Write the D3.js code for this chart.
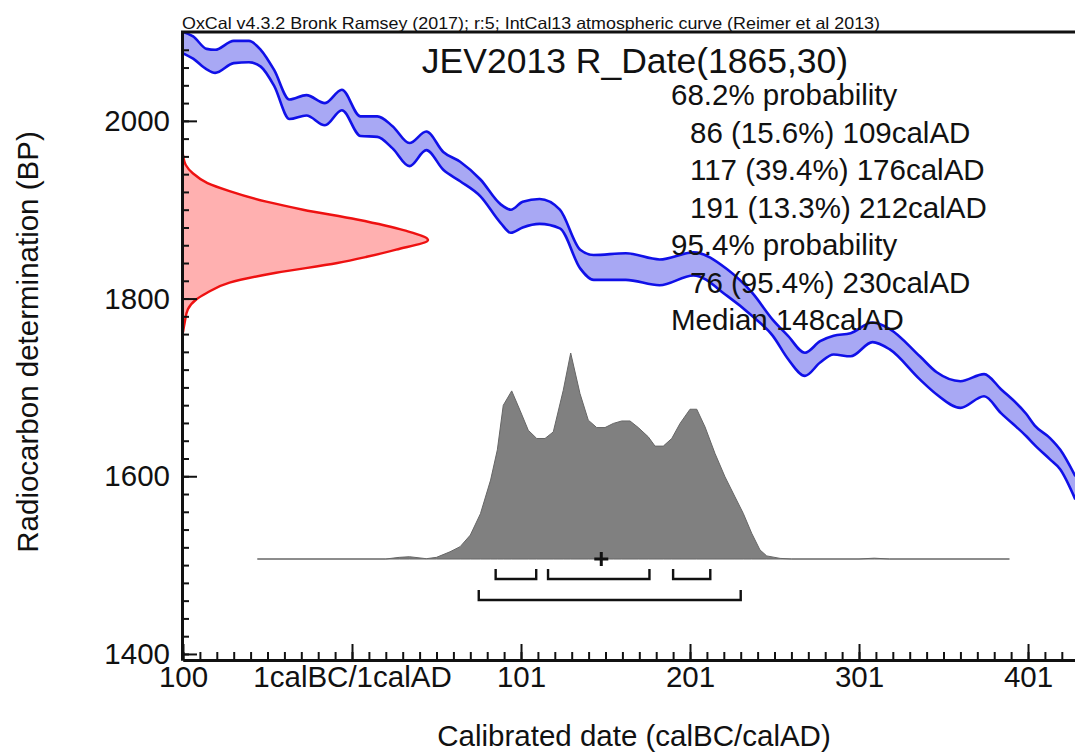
<!DOCTYPE html>
<html>
<head>
<meta charset="utf-8">
<script src="https://cdn.jsdelivr.net/npm/d3@7"></script>
<style>
  html, body { margin: 0; padding: 0; background: #fff; }
  svg { display: block; }
  text { font-family: "Liberation Sans", Arial, sans-serif; fill: #111; }
</style>
</head>
<body>
<svg id="chart" width="1075" height="752"></svg>
<script>
// ---------- DATA ----------
const xTickValues = [-100, 0, 100, 200, 300, 400];
const xTickLabels = ["100", "1calBC/1calAD", "101", "201", "301", "401"];
const yTickValues = [1400, 1600, 1800, 2000];

// IntCal13 band (upper/lower edge, BP) by calendar position
const curveYears = [-100, -94, -86, -81, -70, -61, -54, -46, -37, -27, -16, -6, 5, 15, 24, 34, 44, 54, 64, 76, 88, 94, 101, 111, 123, 135, 143, 162, 182, 202, 222, 237, 249, 258, 268, 277, 285, 295, 308, 318, 336, 346, 360, 374, 384, 399, 404, 413, 419, 428];
const curveUpper = [2100, 2095, 2081, 2080, 2090, 2090, 2080, 2057, 2024, 2029, 2020, 2035, 2005, 2005, 1994, 1975, 1988, 1965, 1954, 1934, 1906, 1900, 1909, 1912, 1900, 1855, 1849, 1851, 1844, 1852, 1833, 1806, 1776, 1758, 1739, 1752, 1758, 1761, 1773, 1766, 1735, 1717, 1707, 1715, 1698, 1670, 1657, 1643, 1630, 1600];
const curveLower = [2076, 2070, 2058, 2054, 2065, 2066, 2061, 2039, 2002, 2006, 1995, 2012, 1983, 1982, 1969, 1949, 1967, 1945, 1932, 1915, 1885, 1874, 1880, 1884, 1879, 1834, 1821, 1821, 1815, 1826, 1803, 1780, 1758, 1732, 1713, 1728, 1737, 1735, 1751, 1743, 1709, 1692, 1677, 1690, 1671, 1645, 1635, 1619, 1608, 1574];

// Radiocarbon measurement R_Date(1865,30): relative probability by BP
const rDateBP   = [1962, 1950, 1941, 1930, 1921, 1909, 1900, 1889, 1877, 1866, 1855, 1847, 1840, 1829, 1818, 1806, 1799, 1788, 1773, 1762];
const rDateProb = [0, 0.012, 0.04, 0.10, 0.19, 0.34, 0.49, 0.71, 0.90, 1.0, 0.87, 0.75, 0.63, 0.38, 0.19, 0.095, 0.054, 0.02, 0.007, 0];

// Calibrated posterior: relative probability by calendar position
const postYears = [-56, 20, 28, 34, 44, 50, 58, 64, 70, 76, 82, 86, 89.5, 94.5, 99.4, 104.3, 109.3, 114.2, 119.1, 125, 129.4, 134.9, 139.8, 144.8, 149.7, 154.6, 159.6, 164.5, 169.4, 175.3, 179.3, 184.2, 189.2, 194.1, 200, 204, 208.9, 214.8, 220.7, 226.6, 231.5, 236.5, 241.4, 245.4, 253.3, 260, 300, 309, 318, 389];
const postProb  = [0, 0, 0.008, 0.011, 0.0015, 0.008, 0.035, 0.06, 0.116, 0.22, 0.383, 0.53, 0.746, 0.816, 0.722, 0.625, 0.585, 0.585, 0.617, 0.819, 1.0, 0.803, 0.674, 0.638, 0.638, 0.658, 0.67, 0.67, 0.638, 0.593, 0.548, 0.548, 0.585, 0.658, 0.727, 0.727, 0.641, 0.512, 0.399, 0.302, 0.222, 0.125, 0.044, 0.015, 0.003, 0, 0, 0.004, 0, 0];

// Ranges (calAD)
const range68 = [[86, 109], [117, 176], [191, 212]];
const range95 = [[76, 230]];
const medianAD = 148;

const headerText = "OxCal v4.3.2 Bronk Ramsey (2017); r:5; IntCal13 atmospheric curve (Reimer et al 2013)";
const titleText = "JEV2013 R_Date(1865,30)";
const summaryLines = ["68.2% probability", "86 (15.6%) 109calAD", "117 (39.4%) 176calAD", "191 (13.3%) 212calAD", "95.4% probability", "76 (95.4%) 230calAD", "Median 148calAD"];
const summaryIndent = [0, 1, 1, 1, 0, 1, 0];
const xAxisTitle = "Calibrated date (calBC/calAD)";
const yAxisTitle = "Radiocarbon determination (BP)";

// ---------- LAYOUT ----------
const W = 1075, H = 752;
const pL = 183, pR = 1075, pT = 32, pB = 660;
const FS = 29.5;

const svg = d3.select("#chart");
svg.append("rect").attr("width", W).attr("height", H).attr("fill", "#fff");

const x = d3.scaleLinear().domain([-100, 427.8]).range([pL, pR]);
const y = d3.scaleLinear().domain([1393.2, 2100]).range([pB, pT]);

svg.append("defs").append("clipPath").attr("id", "plotclip")
  .append("rect").attr("x", pL).attr("y", pT).attr("width", pR - pL).attr("height", pB - pT);

const plot = svg.append("g").attr("clip-path", "url(#plotclip)");

// Calibration curve band
const band = curveYears.map((yr, i) => ({ yr, up: curveUpper[i], lo: curveLower[i] }));
const bandCurve = d3.curveMonotoneX;
plot.append("path").datum(band)
  .attr("d", d3.area().x(d => x(d.yr)).y0(d => y(d.lo)).y1(d => y(d.up)).curve(bandCurve))
  .attr("fill", "#a8a8f4");
["up", "lo"].forEach(k => {
  plot.append("path").datum(band)
    .attr("d", d3.line().x(d => x(d.yr)).y(d => y(d[k])).curve(bandCurve))
    .attr("fill", "none").attr("stroke", "#1010e8").attr("stroke-width", 2.6);
});

// Radiocarbon measurement (red)
const rd = rDateBP.map((bp, i) => ({ bp, p: rDateProb[i] }));
const xr = d3.scaleLinear().domain([0, 1]).range([pL, 428]);
plot.append("path").datum(rd)
  .attr("d", d3.area().y(d => y(d.bp)).x0(xr(0)).x1(d => xr(d.p)).curve(d3.curveMonotoneY))
  .attr("fill", "#ffb0b0");
plot.append("path").datum(rd)
  .attr("d", d3.line().y(d => y(d.bp)).x(d => xr(d.p)).curve(d3.curveMonotoneY))
  .attr("fill", "none").attr("stroke", "#ee1111").attr("stroke-width", 2.4);

// Posterior (grey)
const baseY = 559;
const hp = d3.scaleLinear().domain([0, 1]).range([0, 206]);
const post = postYears.map((yr, i) => ({ yr, p: postProb[i] }));
plot.append("path").datum(post)
  .attr("d", d3.area().x(d => x(d.yr)).y0(baseY).y1(d => baseY - hp(d.p)))
  .attr("fill", "#808080").attr("stroke", "#666").attr("stroke-width", 1);

// Range brackets (start of 'from' year to end of 'to' year)
function bracket(r, yLine) {
  const x1 = x(r[0] - 1), x2 = x(r[1]);
  return `M${x1},${yLine - 10}L${x1},${yLine}L${x2},${yLine}L${x2},${yLine - 10}`;
}
plot.selectAll(".b68").data(range68).enter().append("path")
  .attr("d", d => bracket(d, 579)).attr("fill", "none").attr("stroke", "#111").attr("stroke-width", 2.4);
plot.selectAll(".b95").data(range95).enter().append("path")
  .attr("d", d => bracket(d, 600)).attr("fill", "none").attr("stroke", "#111").attr("stroke-width", 2.4);

// Median cross
const mx = x(medianAD - 0.5);
plot.append("path").attr("d", `M${mx - 7},${baseY}L${mx + 7},${baseY}M${mx},${baseY - 7}L${mx},${baseY + 7}`)
  .attr("stroke", "#111").attr("stroke-width", 3);

// Texts
svg.append("text").attr("x", 182).attr("y", 29).attr("font-size", 16.5)
  .attr("textLength", 698).attr("lengthAdjust", "spacingAndGlyphs").text(headerText);
svg.append("text").attr("x", 635).attr("y", 73).attr("text-anchor", "middle").attr("font-size", 35.5).text(titleText);
svg.selectAll(".sum").data(summaryLines).enter().append("text")
  .attr("x", (d, i) => summaryIndent[i] ? 690 : 671)
  .attr("y", (d, i) => 105 + i * 37.5)
  .attr("font-size", FS).text(d => d);

// Axes
const xMinor = d3.axisBottom(x).tickValues(d3.range(-100, 428, 10)).tickSize(-8).tickSizeOuter(0).tickFormat("");
const xMajor = d3.axisBottom(x).tickValues(xTickValues).tickSize(-16).tickSizeOuter(0).tickPadding(6)
  .tickFormat((d, i) => xTickLabels[i]);
const yMinor = d3.axisLeft(y).tickValues(d3.range(1400, 2100, 20)).tickSize(-7).tickSizeOuter(0).tickFormat("");
const yMajor = d3.axisLeft(y).tickValues(yTickValues).tickSize(-15).tickSizeOuter(0).tickPadding(12).tickFormat(d3.format("d"));

function styleAxis(g) {
  g.selectAll(".domain").attr("stroke", "#111").attr("stroke-width", 3);
  g.selectAll(".tick line").attr("stroke", "#111").attr("stroke-width", 2);
  g.selectAll(".tick text").attr("font-size", FS).attr("fill", "#111")
    .style("font-family", '"Liberation Sans", Arial, sans-serif');
}
svg.append("g").attr("transform", `translate(0,${pB})`).call(xMinor).call(styleAxis);
svg.append("g").attr("transform", `translate(0,${pB})`).call(xMajor).call(styleAxis);
svg.append("g").attr("transform", `translate(${pL - 1},0)`).call(yMinor).call(styleAxis);
svg.append("g").attr("transform", `translate(${pL - 1},0)`).call(yMajor).call(styleAxis);

// Top frame line
svg.append("line").attr("x1", pL - 2).attr("x2", pR).attr("y1", pT).attr("y2", pT)
  .attr("stroke", "#111").attr("stroke-width", 3);

// Axis titles
svg.append("text").attr("x", 634).attr("y", 746).attr("text-anchor", "middle").attr("font-size", FS).text(xAxisTitle);
svg.append("text").attr("transform", "translate(38,342) rotate(-90)").attr("text-anchor", "middle")
  .attr("font-size", FS).text(yAxisTitle);
</script>
</body>
</html>
